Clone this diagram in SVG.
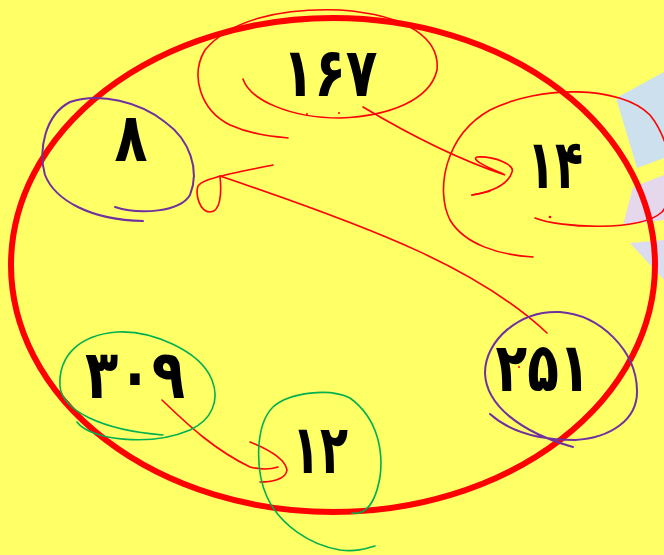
<svg xmlns="http://www.w3.org/2000/svg" width="664" height="555" viewBox="0 0 664 555">
<style>
.num{font-family:"DejaVu Sans","Noto Sans",sans-serif;font-weight:bold;font-size:68px;fill:#000;text-anchor:middle}
.r{fill:none;stroke:#FF0000;stroke-width:1.6;stroke-linecap:round}
.p{fill:none;stroke:#7030A0;stroke-width:2;stroke-linecap:round}
.g{fill:none;stroke:#00B050;stroke-width:1.6;stroke-linecap:round}
.dot{fill:#FF0000}
</style>
<rect width="664" height="555" fill="#FFFF66"/>
<polygon points="616,98 664,72 664,158 637,168" fill="#CCE0EE"/>
<polygon points="633,187 664,175 664,220 623,225" fill="#E6D8EC"/>
<polygon points="630,243 664,240 664,280" fill="#DCDCF0"/>
<ellipse cx="333" cy="265" rx="322" ry="247" fill="none" stroke="#FF0000" stroke-width="6"/>
<g id="connectors">
<path class="r" d="M363,107 C410,135 460,160 505,175 C490,168 470,160 477,157 C495,156 515,165 512,172 C508,185 490,192 472,195"/>
<path class="r" d="M490,191 C484,193 478,194 472,195" stroke-width="3"/>
<path class="r" d="M547,333 C480,270 380,230 220,176 C222,195 220,212 210,212 C200,212 195,195 198,186 C202,178 240,172 273,165"/>
<path class="r" d="M162,400 C190,427 215,450 250,467 C262,470 272,469 278,467"/>
<path class="r" d="M250,442 C265,448 285,458 287,470 C286,480 270,482 260,482" stroke-width="2"/>
</g>
<g id="n167">
<path class="r" d="M243,79 C250,100 290,118 340,118 C390,116 430,100 437,70 C440,40 410,15 340,10 C280,8 230,20 205,50 C190,75 200,110 230,125 C250,134 270,136 288,138"/>
<circle class="dot" cx="307" cy="114" r="1"/>
<circle class="dot" cx="339" cy="113" r="1"/>
<circle class="dot" cx="365" cy="88" r="1"/>
<text class="num" x="330" y="96" textLength="95" lengthAdjust="spacingAndGlyphs">۱۶۷</text>
</g>
<g id="n8">
<path class="p" d="M115,207 C140,215 180,212 190,195 C200,170 190,140 165,122 C140,102 100,92 70,102 C45,115 38,150 45,175 C55,200 90,220 143,221"/>
<text class="num" x="131" y="161" textLength="33" lengthAdjust="spacingAndGlyphs">۸</text>
</g>
<g id="n14">
<path class="r" d="M535,218 C560,228 640,232 662,212 C680,190 670,140 650,115 C620,85 540,85 490,110 C445,135 435,190 450,220 C465,245 500,255 533,257"/>
<circle class="dot" cx="550" cy="217" r="1.3"/>
<text class="num" x="555" y="188" textLength="56" lengthAdjust="spacingAndGlyphs">۱۴</text>
</g>
<g id="n251">
<path class="p" d="M490,414 C510,432 540,440 575,440 C610,438 638,420 637,390 C636,350 600,315 560,312 C520,310 485,340 485,373 C486,405 520,432 573,447"/>
<circle class="dot" cx="519" cy="367" r="1"/>
<text class="num" x="543" y="391" textLength="95" lengthAdjust="spacingAndGlyphs">۲۵۱</text>
</g>
<g id="n309">
<path class="g" d="M77,422 C90,440 150,447 190,430 C212,420 220,400 212,380 C200,350 150,330 117,332 C80,335 58,355 60,387 C63,410 100,430 163,435"/>
<text class="num" x="135" y="398" textLength="100" lengthAdjust="spacingAndGlyphs">۳۰۹</text>
</g>
<g id="n12">
<path class="g" d="M352,513 C365,515 375,505 380,477 C383,455 380,420 350,398 C330,388 290,392 273,407 C255,425 255,470 267,497 C280,525 310,545 340,550 C355,552 365,549 375,546"/>
<text class="num" x="320" y="473" textLength="56" lengthAdjust="spacingAndGlyphs">۱۲</text>
</g>
</svg>
